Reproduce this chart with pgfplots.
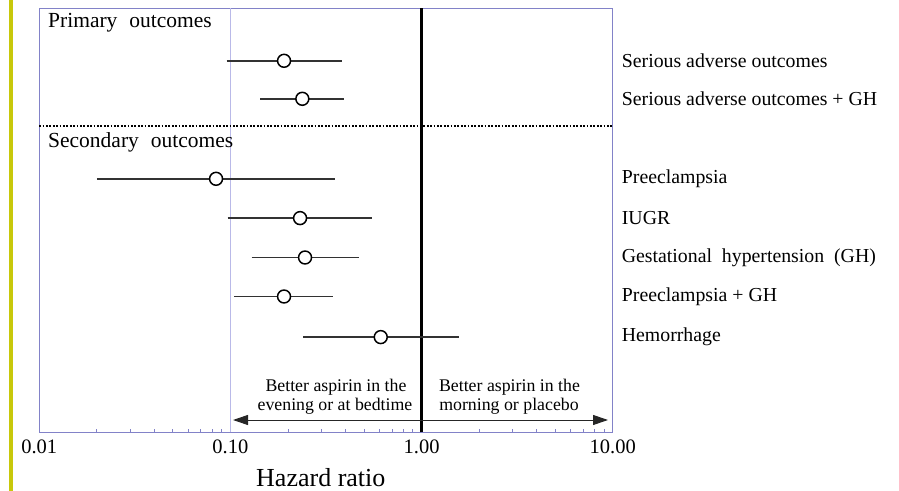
\documentclass[border=0pt]{standalone}
\usepackage{fontspec}
\setmainfont{Liberation Serif}
\usepackage{pgfplots}
\pgfplotsset{compat=1.18}
\usepackage{pgfplotstable}
\usetikzlibrary{arrows.meta}
\definecolor{framecol}{RGB}{130,130,200}
\definecolor{lavline}{RGB}{185,185,232}
\definecolor{cigray}{RGB}{50,50,50}
\definecolor{sidebarcol}{RGB}{200,200,10}

% y = row position (432.5 - pixel row)
\pgfplotstableread{
y     est     lo      hi
371.5 0.1908  0.0956  0.3823
333.5 0.2378  0.1428  0.3930
253.5 0.0841  0.0200  0.3527
214.2 0.2314  0.0968  0.5489
174.8 0.2457  0.1292  0.4710
135.8 0.1908  0.1048  0.3430
95.2  0.6116  0.2407  1.5710
}\hrdata

\begin{document}
\begin{tikzpicture}
\begin{axis}[
  name=ax,
  scale only axis,
  width=573.4bp, height=424bp,
  xmode=log,
  xmin=0.01, xmax=10,
  ymin=0, ymax=424,
  axis line style={draw=framecol, line width=1bp},
  xtick={0.01,0.1,1,10},
  xticklabels={0.01,0.10,1.00,10.00},
  minor xtick={0.02,0.03,0.04,0.05,0.06,0.07,0.08,0.09,0.2,0.3,0.4,0.5,0.6,0.7,0.8,0.9,2,3,4,5,6,7,8,9},
  xtick pos=left,
  tick align=inside,
  major tick length=3bp,
  minor tick length=3bp,
  xtick style={draw=framecol, line width=0.8bp},
  minor tick style={draw=framecol, line width=0.8bp},
  xticklabel style={font=\fontsize{20.5bp}{23bp}\selectfont, anchor=base, inner sep=0pt, yshift=-21.5bp},
  /pgf/number format/assume math mode=true,
  ytick={371.5,333.5,253.5,214.2,174.8,135.8,95.2},
  yticklabels={Serious\ adverse\ outcomes, Serious\ adverse\ outcomes + GH, Preeclampsia, IUGR, Gestational\ \ hypertension\ \ (GH), Preeclampsia + GH, Hemorrhage},
  yticklabel pos=right,
  ytick style={draw=none},
  yticklabel style={font=\fontsize{19.8bp}{22bp}\selectfont, anchor=west, inner sep=0pt, xshift=9bp},
  clip=false,
]
% reference lines
\addplot[lavline, line width=1.2bp] coordinates {(0.1,0) (0.1,424)};
\addplot[black, line width=3bp] coordinates {(1,0) (1,424)};
\addplot[black, line width=1.6bp, dash pattern=on 1.7bp off 1.7bp] coordinates {(0.01,306.5) (10,306.5)};
% confidence intervals
\addplot[cigray, line width=1.5bp] coordinates {(0.0956,371.5) (0.3823,371.5)};
\addplot[cigray, line width=1.5bp] coordinates {(0.1428,333.5) (0.3930,333.5)};
\addplot[cigray, line width=1.5bp] coordinates {(0.0200,253.5) (0.3527,253.5)};
\addplot[cigray, line width=1.5bp] coordinates {(0.0968,214.2) (0.5489,214.2)};
\addplot[cigray, line width=1.5bp] coordinates {(0.1292,174.8) (0.4710,174.8)};
\addplot[cigray, line width=1.5bp] coordinates {(0.1048,135.8) (0.3430,135.8)};
\addplot[cigray, line width=1.5bp] coordinates {(0.2407,95.2) (1.5710,95.2)};
% point estimates
\addplot[only marks, mark=*, mark size=6.5pt, mark options={fill=white, draw=black, line width=1.5bp}] table[x=est, y=y] {\hrdata};
\end{axis}
\coordinate (O) at ([xshift=-39.3bp, yshift=8.3bp]ax.north west);
% yellow side bar
\fill[sidebarcol] ([xshift=9bp]O) rectangle ([xshift=13bp, yshift=-491bp]O);
% section headings
\node[anchor=base west, inner sep=0pt, font=\fontsize{21.5bp}{24bp}\selectfont] at ([xshift=48bp, yshift=-28bp]O) {Primary\hspace{0.3em} outcomes};
\node[anchor=base west, inner sep=0pt, font=\fontsize{21.5bp}{24bp}\selectfont] at ([xshift=48bp, yshift=-148bp]O) {Secondary\hspace{0.3em} outcomes};
% direction annotation
\draw[black!85, line width=1bp, {Triangle[length=15bp,width=10bp]}-{Triangle[length=15bp,width=10bp]}] ([xshift=233bp, yshift=-420bp]O) -- ([xshift=608bp, yshift=-420bp]O);
\node[anchor=base, inner sep=0pt, font=\fontsize{17.8bp}{20bp}\selectfont] at ([xshift=336bp, yshift=-391.5bp]O) {Better aspirin in the};
\node[anchor=base, inner sep=0pt, font=\fontsize{17.8bp}{20bp}\selectfont] at ([xshift=335bp, yshift=-410bp]O) {evening or at bedtime};
\node[anchor=base, inner sep=0pt, font=\fontsize{17.8bp}{20bp}\selectfont] at ([xshift=509.5bp, yshift=-391.5bp]O) {Better aspirin in the};
\node[anchor=base, inner sep=0pt, font=\fontsize{17.8bp}{20bp}\selectfont] at ([xshift=509bp, yshift=-410bp]O) {morning or placebo};
% axis title
\node[anchor=base, inner sep=0pt, font=\fontsize{26bp}{30bp}\selectfont] at ([xshift=320.8bp, yshift=-486bp]O) {Hazard ratio};
\pgfresetboundingbox
\path[use as bounding box] (O) rectangle ([xshift=899bp, yshift=-491bp]O);
\end{tikzpicture}
\end{document}
